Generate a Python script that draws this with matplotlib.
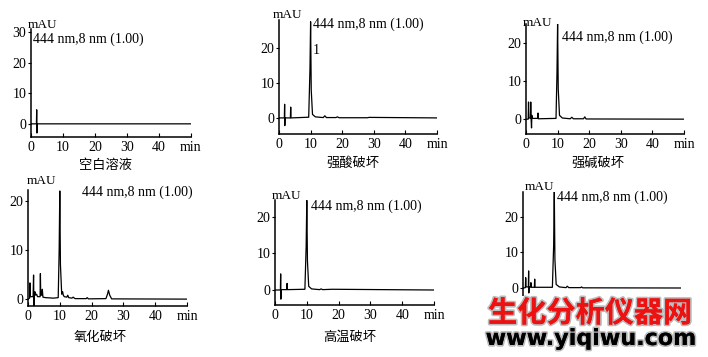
import matplotlib
matplotlib.use("Agg")
import matplotlib.pyplot as plt
import matplotlib.patheffects as pe
from matplotlib.patches import Rectangle

plt.rcParams['font.family'] = ['Liberation Serif', 'Noto Sans CJK SC', 'DejaVu Sans']

# chromatogram traces (time in min, signal in mAU)
blank_t = [0, 1.7, 1.78, 1.84, 1.92, 50]
blank_y = [0, 0, 4.6, -3.0, 0, 0]

acid_t = [0, 1.7, 1.78, 1.84, 1.9, 3.6, 3.7, 3.8, 9.4, 9.8, 10.0, 10.2, 10.6, 11.5,
          14.0, 14.5, 15.0, 18.0, 18.5, 19.0, 28.0, 28.5, 50]
acid_y = [0, 0, 3.9, -2.2, 0, 0, 3.1, 0, 0.2, 14, 27.5, 8, 1.0, 0.3,
          0.1, 0.6, 0.1, 0.1, 0.3, 0.05, 0.05, 0.15, 0]

alkali_t = [0, 0.7, 0.8, 0.9, 1.4, 1.5, 1.6, 1.75, 1.85, 1.95, 3.7, 3.8, 3.9, 9.5,
            9.8, 10.0, 10.2, 10.6, 11.5, 14.0, 14.5, 15.0, 18.2, 18.6, 19.0, 50]
alkali_y = [0, 0, 4.5, 0.3, 0.3, 4.5, 0.3, -2.3, 1.0, 0.2, 0.2, 1.6, 0.1, 0.2,
            12, 25, 8, 1.0, 0.3, 0.1, 0.5, 0.1, 0.1, 0.6, 0.05, 0]

oxid_t = [0, 0.5, 0.6, 0.7, 1.6, 1.75, 1.85, 1.95, 2.2, 2.4, 2.7, 3.0, 3.8, 3.9, 4.0,
          4.3, 4.5, 4.7, 5.5, 8.0, 9.5, 9.8, 10.0, 10.2, 10.6, 10.9, 11.1, 11.4, 12.2,
          12.5, 12.8, 13.8, 14.2, 14.8, 18.3, 18.6, 19.0, 24.5, 25.0, 25.3, 25.7, 26.3, 50]
oxid_y = [0, 0.2, 3.3, 0.5, 0.5, 4.9, -1.4, 1.2, 1.5, 0.8, 1.0, 0.5, 0.5, 5.2, 0.8,
          0.8, 2.0, 0.4, 0.3, 0.2, 0.3, 10, 22, 7, 1.0, 1.5, 0.8, 0.5, 0.4,
          0.8, 0.3, 0.2, 0.4, 0.1, 0.1, 0.3, 0.05, 0.1, 1.0, 1.8, 0.8, 0.05, 0]

heat_t = [0, 1.7, 1.78, 1.84, 1.9, 3.7, 3.8, 3.9, 9.4, 9.8, 10.0, 10.2, 10.6, 11.5,
          14.0, 14.5, 15.0, 18.0, 50]
heat_y = [0, 0, 4.4, -2.5, 0.1, 0.1, 1.8, 0.1, 0.2, 12, 24.5, 8, 1.0, 0.3,
          0.1, 0.3, 0.1, 0.2, 0]

light_t = [0, 0.75, 0.85, 0.95, 1.7, 1.78, 1.84, 1.9, 2.4, 2.5, 2.6, 3.6, 3.7, 3.8,
           9.3, 9.7, 9.9, 10.1, 10.5, 11.5, 13.6, 14.0, 14.5, 18.2, 18.5, 18.9, 50]
light_y = [0, 0.1, 2.9, 0.3, 0.3, 4.8, -1.4, 0.3, 0.3, 1.5, 0.2, 0.2, 2.5, 0.2,
           0.2, 12, 27, 8, 1.0, 0.3, 0.1, 0.5, 0.1, 0.1, 0.3, 0.05, 0]

titles = ['空白溶液', '强酸破坏', '强碱破坏', '氧化破坏', '高温破坏', '']
xticks = [0, 10, 20, 30, 40, 50]
xticklabels = ['0', '10', '20', '30', '40', 'min']
wave_label = '444 nm,8 nm (1.00)'

W, H = 708, 357

def px(x, y):
    return x / W, 1 - y / H

# layout in pixels: left, right, top, bottom, ylim, yticks
panels = [
    (blank_t, blank_y, 31, 191, 29, 137, (-4.3, 31), [0, 10, 20, 30]),
    (acid_t, acid_y, 279, 437, 20, 134, (-4.6, 28), [0, 10, 20]),
    (alkali_t, alkali_y, 526, 684, 24, 134, (-3.9, 25), [0, 10, 20]),
    (oxid_t, oxid_y, 28, 187, 190, 306, (-1.4, 22.2), [0, 10, 20]),
    (heat_t, heat_y, 275, 434, 200, 305, (-4.1, 24.6), [0, 10, 20]),
    (light_t, light_y, 523, 681, 192, 304, (-4.5, 27), [0, 10, 20]),
]
mau_pos = [(28, 25), (273, 15), (523, 23), (27, 181), (272, 196), (525, 187)]
wave_pos = [(33, 39), (313, 24), (562, 37), (82, 192), (311, 206), (557, 197)]
title_pos = [(105, 165), (353, 163), (598, 163), (100, 338), (350, 337), (600, 338)]

fig = plt.figure(figsize=(7.08, 3.57), dpi=100)

for i, (t, y, l, r, top, bot, yl, yt) in enumerate(panels):
    ax = fig.add_axes([l / W, 1 - bot / H, (r - l) / W, (bot - top) / H])
    ax.plot(t, y, color='black', lw=0.9)
    ax.set_xlim(0, 50)
    ax.set_ylim(*yl)
    ax.spines['top'].set_visible(False)
    ax.spines['right'].set_visible(False)
    ax.spines['left'].set_linewidth(1.1)
    ax.spines['bottom'].set_linewidth(1.1)
    ax.set_xticks(xticks)
    ax.set_yticks(yt)
    if titles[i]:
        ax.set_xticklabels(xticklabels)
    else:
        # last panel's axis labels are covered by the watermark
        ax.set_xticklabels([])
    ax.tick_params(axis='x', direction='in', length=3, pad=3, labelsize=10)
    ax.tick_params(axis='y', direction='out', length=2.5, pad=1, labelsize=10)
    ax.patch.set_alpha(0)

    fig.text(*px(*mau_pos[i]), 'mAU', fontsize=9.5, ha='left', va='center')
    fig.text(*px(*wave_pos[i]), wave_label, fontsize=10, ha='left', va='center')
    if titles[i]:
        fig.text(*px(*title_pos[i]), titles[i], fontsize=9.5, ha='center', va='center',
                 family=['Noto Sans CJK SC', 'DejaVu Sans'])

# peak number in the acid panel
fig.text(*px(316, 50), '1', fontsize=10, ha='center', va='center')

# watermark
fig.patches.append(Rectangle(px(482, 350), 220 / W, 54 / H, transform=fig.transFigure,
                             facecolor='white', edgecolor='none', zorder=5))
fig.text(*px(590, 313), '生化分析仪器网', fontsize=21, fontweight='bold', color='#ee1111',
         ha='center', va='center', family=['Noto Sans CJK SC', 'DejaVu Sans'], zorder=6,
         path_effects=[pe.withStroke(linewidth=2.5, foreground='#bbbbbb'), pe.Normal()])
fig.text(*px(591, 339), 'www.yiqiwu.com', fontsize=16, fontweight='bold', color='black',
         ha='center', va='center', family='DejaVu Sans', zorder=6,
         path_effects=[pe.withStroke(linewidth=2.5, foreground='#bbbbbb'), pe.Normal()])

fig.savefig('out.png', dpi=100)
